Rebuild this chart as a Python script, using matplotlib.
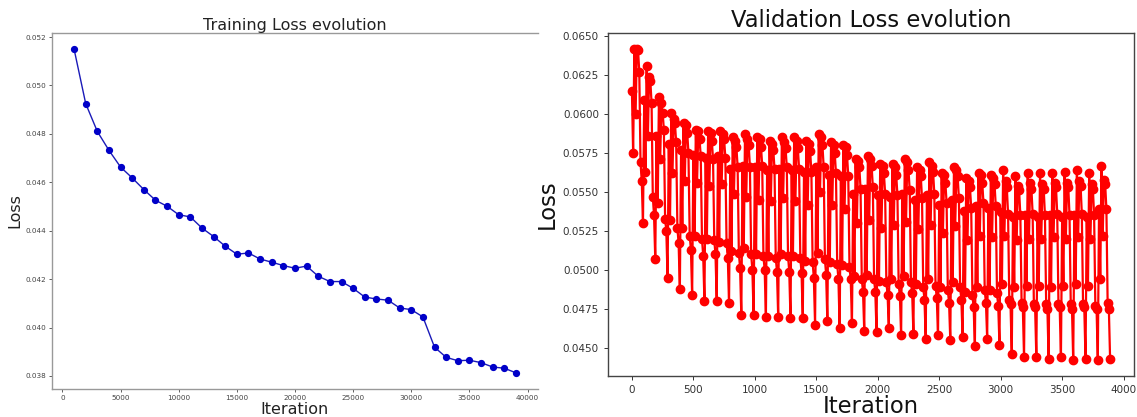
import numpy as np
import matplotlib
matplotlib.use("Agg")
import matplotlib.pyplot as plt

# ---------------- Training loss (left) ----------------
train_iterations = [1000, 2000, 3000, 4000, 5000, 6000, 7000, 8000, 9000, 10000,
                    11000, 12000, 13000, 14000, 15000, 16000, 17000, 18000, 19000, 20000,
                    21000, 22000, 23000, 24000, 25000, 26000, 27000, 28000, 29000, 30000,
                    31000, 32000, 33000, 34000, 35000, 36000, 37000, 38000, 39000]
train_loss = [0.05150, 0.04925, 0.04810, 0.04732, 0.04663, 0.04618, 0.04570, 0.04526, 0.04501, 0.04466,
              0.04457, 0.04411, 0.04376, 0.04336, 0.04303, 0.04308, 0.04283, 0.04270, 0.04256, 0.04245,
              0.04254, 0.04212, 0.04190, 0.04190, 0.04162, 0.04126, 0.04118, 0.04113, 0.04081, 0.04074,
              0.04044, 0.03919, 0.03877, 0.03863, 0.03865, 0.03855, 0.03837, 0.03832, 0.03813]

# ---------------- Validation loss (right) ----------------
# one row per pass over the validation batches (10 evaluations, every 10 iterations)
val_loss_rows = [
    [0.0615, 0.0575, 0.0642, 0.0600, 0.0642, 0.0641, 0.0627, 0.0569, 0.0557, 0.0530],
    [0.0609, 0.0563, 0.0631, 0.0586, 0.0624, 0.0621, 0.0607, 0.0547, 0.0535, 0.0507],
    [0.0586, 0.0543, 0.0611, 0.0571, 0.0607, 0.0601, 0.0590, 0.0533, 0.0525, 0.0495],
    [0.0581, 0.0532, 0.0601, 0.0562, 0.0597, 0.0594, 0.0582, 0.0527, 0.0517, 0.0488],
    [0.0577, 0.0527, 0.0594, 0.0557, 0.0593, 0.0588, 0.0575, 0.0522, 0.0513, 0.0484],
    [0.0574, 0.0522, 0.0590, 0.0556, 0.0589, 0.0584, 0.0573, 0.0520, 0.0509, 0.0480],
    [0.0572, 0.0520, 0.0589, 0.0554, 0.0588, 0.0583, 0.0571, 0.0519, 0.0510, 0.0480],
    [0.0573, 0.0518, 0.0589, 0.0555, 0.0587, 0.0584, 0.0572, 0.0517, 0.0508, 0.0479],
    [0.0565, 0.0512, 0.0585, 0.0549, 0.0583, 0.0579, 0.0566, 0.0511, 0.0501, 0.0471],
    [0.0567, 0.0514, 0.0587, 0.0547, 0.0584, 0.0580, 0.0566, 0.0510, 0.0500, 0.0471],
    [0.0566, 0.0510, 0.0585, 0.0545, 0.0584, 0.0579, 0.0567, 0.0509, 0.0500, 0.0470],
    [0.0564, 0.0509, 0.0583, 0.0544, 0.0581, 0.0577, 0.0565, 0.0508, 0.0499, 0.0470],
    [0.0565, 0.0510, 0.0585, 0.0546, 0.0582, 0.0578, 0.0566, 0.0509, 0.0499, 0.0469],
    [0.0564, 0.0509, 0.0585, 0.0544, 0.0583, 0.0578, 0.0565, 0.0508, 0.0498, 0.0469],
    [0.0563, 0.0506, 0.0583, 0.0542, 0.0581, 0.0576, 0.0563, 0.0505, 0.0495, 0.0465],
    [0.0566, 0.0511, 0.0587, 0.0550, 0.0585, 0.0580, 0.0566, 0.0507, 0.0497, 0.0467],
    [0.0561, 0.0505, 0.0582, 0.0542, 0.0580, 0.0575, 0.0562, 0.0504, 0.0494, 0.0463],
    [0.0560, 0.0503, 0.0580, 0.0539, 0.0579, 0.0574, 0.0560, 0.0502, 0.0494, 0.0466],
    [0.0549, 0.0496, 0.0571, 0.0530, 0.0570, 0.0566, 0.0552, 0.0494, 0.0486, 0.0461],
    [0.0552, 0.0497, 0.0573, 0.0532, 0.0571, 0.0567, 0.0553, 0.0494, 0.0486, 0.0460],
    [0.0548, 0.0493, 0.0568, 0.0527, 0.0567, 0.0562, 0.0549, 0.0492, 0.0484, 0.0463],
    [0.0547, 0.0494, 0.0568, 0.0529, 0.0566, 0.0561, 0.0548, 0.0491, 0.0483, 0.0458],
    [0.0549, 0.0496, 0.0571, 0.0531, 0.0569, 0.0564, 0.0551, 0.0492, 0.0485, 0.0459],
    [0.0545, 0.0491, 0.0566, 0.0526, 0.0564, 0.0560, 0.0546, 0.0489, 0.0481, 0.0456],
    [0.0548, 0.0494, 0.0569, 0.0529, 0.0567, 0.0563, 0.0549, 0.0490, 0.0482, 0.0458],
    [0.0542, 0.0489, 0.0562, 0.0524, 0.0561, 0.0556, 0.0543, 0.0487, 0.0479, 0.0455],
    [0.0545, 0.0492, 0.0566, 0.0528, 0.0564, 0.0560, 0.0546, 0.0489, 0.0481, 0.0457],
    [0.0538, 0.0486, 0.0559, 0.0519, 0.0557, 0.0553, 0.0540, 0.0484, 0.0476, 0.0451],
    [0.0541, 0.0489, 0.0562, 0.0522, 0.0561, 0.0556, 0.0543, 0.0487, 0.0479, 0.0456],
    [0.0540, 0.0487, 0.0561, 0.0521, 0.0559, 0.0555, 0.0541, 0.0485, 0.0477, 0.0452],
    [0.0537, 0.0491, 0.0564, 0.0522, 0.0557, 0.0553, 0.0536, 0.0481, 0.0478, 0.0446],
    [0.0534, 0.0489, 0.0560, 0.0519, 0.0554, 0.0551, 0.0535, 0.0479, 0.0476, 0.0444],
    [0.0535, 0.0490, 0.0562, 0.0520, 0.0556, 0.0552, 0.0536, 0.0478, 0.0476, 0.0444],
    [0.0534, 0.0490, 0.0562, 0.0520, 0.0555, 0.0552, 0.0535, 0.0478, 0.0475, 0.0443],
    [0.0535, 0.0489, 0.0562, 0.0521, 0.0556, 0.0553, 0.0536, 0.0478, 0.0476, 0.0444],
    [0.0534, 0.0490, 0.0563, 0.0520, 0.0556, 0.0553, 0.0535, 0.0478, 0.0475, 0.0442],
    [0.0535, 0.0491, 0.0564, 0.0521, 0.0557, 0.0554, 0.0536, 0.0478, 0.0476, 0.0443],
    [0.0534, 0.0490, 0.0562, 0.0520, 0.0555, 0.0552, 0.0535, 0.0477, 0.0475, 0.0442],
    [0.0539, 0.0494, 0.0567, 0.0522, 0.0558, 0.0555, 0.0539, 0.0479, 0.0475, 0.0443],
]
val_step = 10
val_loss = [v for row in val_loss_rows for v in row]
val_iterations = list(range(0, val_step * len(val_loss), val_step))

# ---------------- Figure ----------------
W, H = 1137, 417
fig = plt.figure(figsize=(W / 100, H / 100), dpi=100)

def frac(x0, y0, x1, y1):
    return [x0 / W, 1 - y1 / H, (x1 - x0) / W, (y1 - y0) / H]

# Left axes
ax1 = fig.add_axes(frac(52, 33, 538, 389))
ax1.plot(train_iterations, train_loss, color="#1a1ab8", linewidth=1.0,
         marker="o", markersize=4.2, markerfacecolor="#0000c8", markeredgecolor="#0000c8")
ax1.set_title("Training Loss evolution", fontsize=11.5, pad=2.5, color="#222222")
ax1.set_xlabel("Iteration", fontsize=11.5, color="#222222")
ax1.set_ylabel("Loss", fontsize=11.5, color="#222222")
ax1.xaxis.set_label_coords(0.5, -0.036)
ax1.yaxis.set_label_coords(-0.060, 0.5)
ax1.tick_params(labelsize=5.2, colors="#444444", length=2.5, width=0.6, pad=2)
ax1.set_xticks([0, 5000, 10000, 15000, 20000, 25000, 30000, 35000, 40000])
ax1.set_yticks([0.038, 0.040, 0.042, 0.044, 0.046, 0.048, 0.050, 0.052])
for s in ["left", "bottom", "top"]:
    ax1.spines[s].set_color("#999999")
    ax1.spines[s].set_linewidth(1.0)
ax1.spines["right"].set_visible(False)

# Right axes
ax2 = fig.add_axes(frac(608, 33, 1134, 376))
ax2.plot(val_iterations, val_loss, color="#ff0000", linewidth=1.6,
         marker="o", markersize=6.0, markerfacecolor="#ff0000", markeredgecolor="#ff0000")
ax2.set_title("Validation Loss evolution", fontsize=16.3, pad=4, color="#111111")
ax2.set_xlabel("Iteration", fontsize=16.3, color="#111111")
ax2.set_ylabel("Loss", fontsize=16.3, color="#111111")
ax2.xaxis.set_label_coords(0.5, -0.055)
ax2.yaxis.set_label_coords(-0.093, 0.5)
ax2.tick_params(labelsize=7.5, colors="#333333", length=3, width=0.7)
ax2.set_xticks([0, 500, 1000, 1500, 2000, 2500, 3000, 3500, 4000])
ax2.set_yticks([0.045, 0.0475, 0.05, 0.0525, 0.055, 0.0575, 0.06, 0.0625, 0.065])
ax2.yaxis.set_major_formatter(matplotlib.ticker.FormatStrFormatter("%.4f"))
for s in ax2.spines.values():
    s.set_color("#444444")
    s.set_linewidth(1.0)

fig.savefig("out.png", dpi=100)
